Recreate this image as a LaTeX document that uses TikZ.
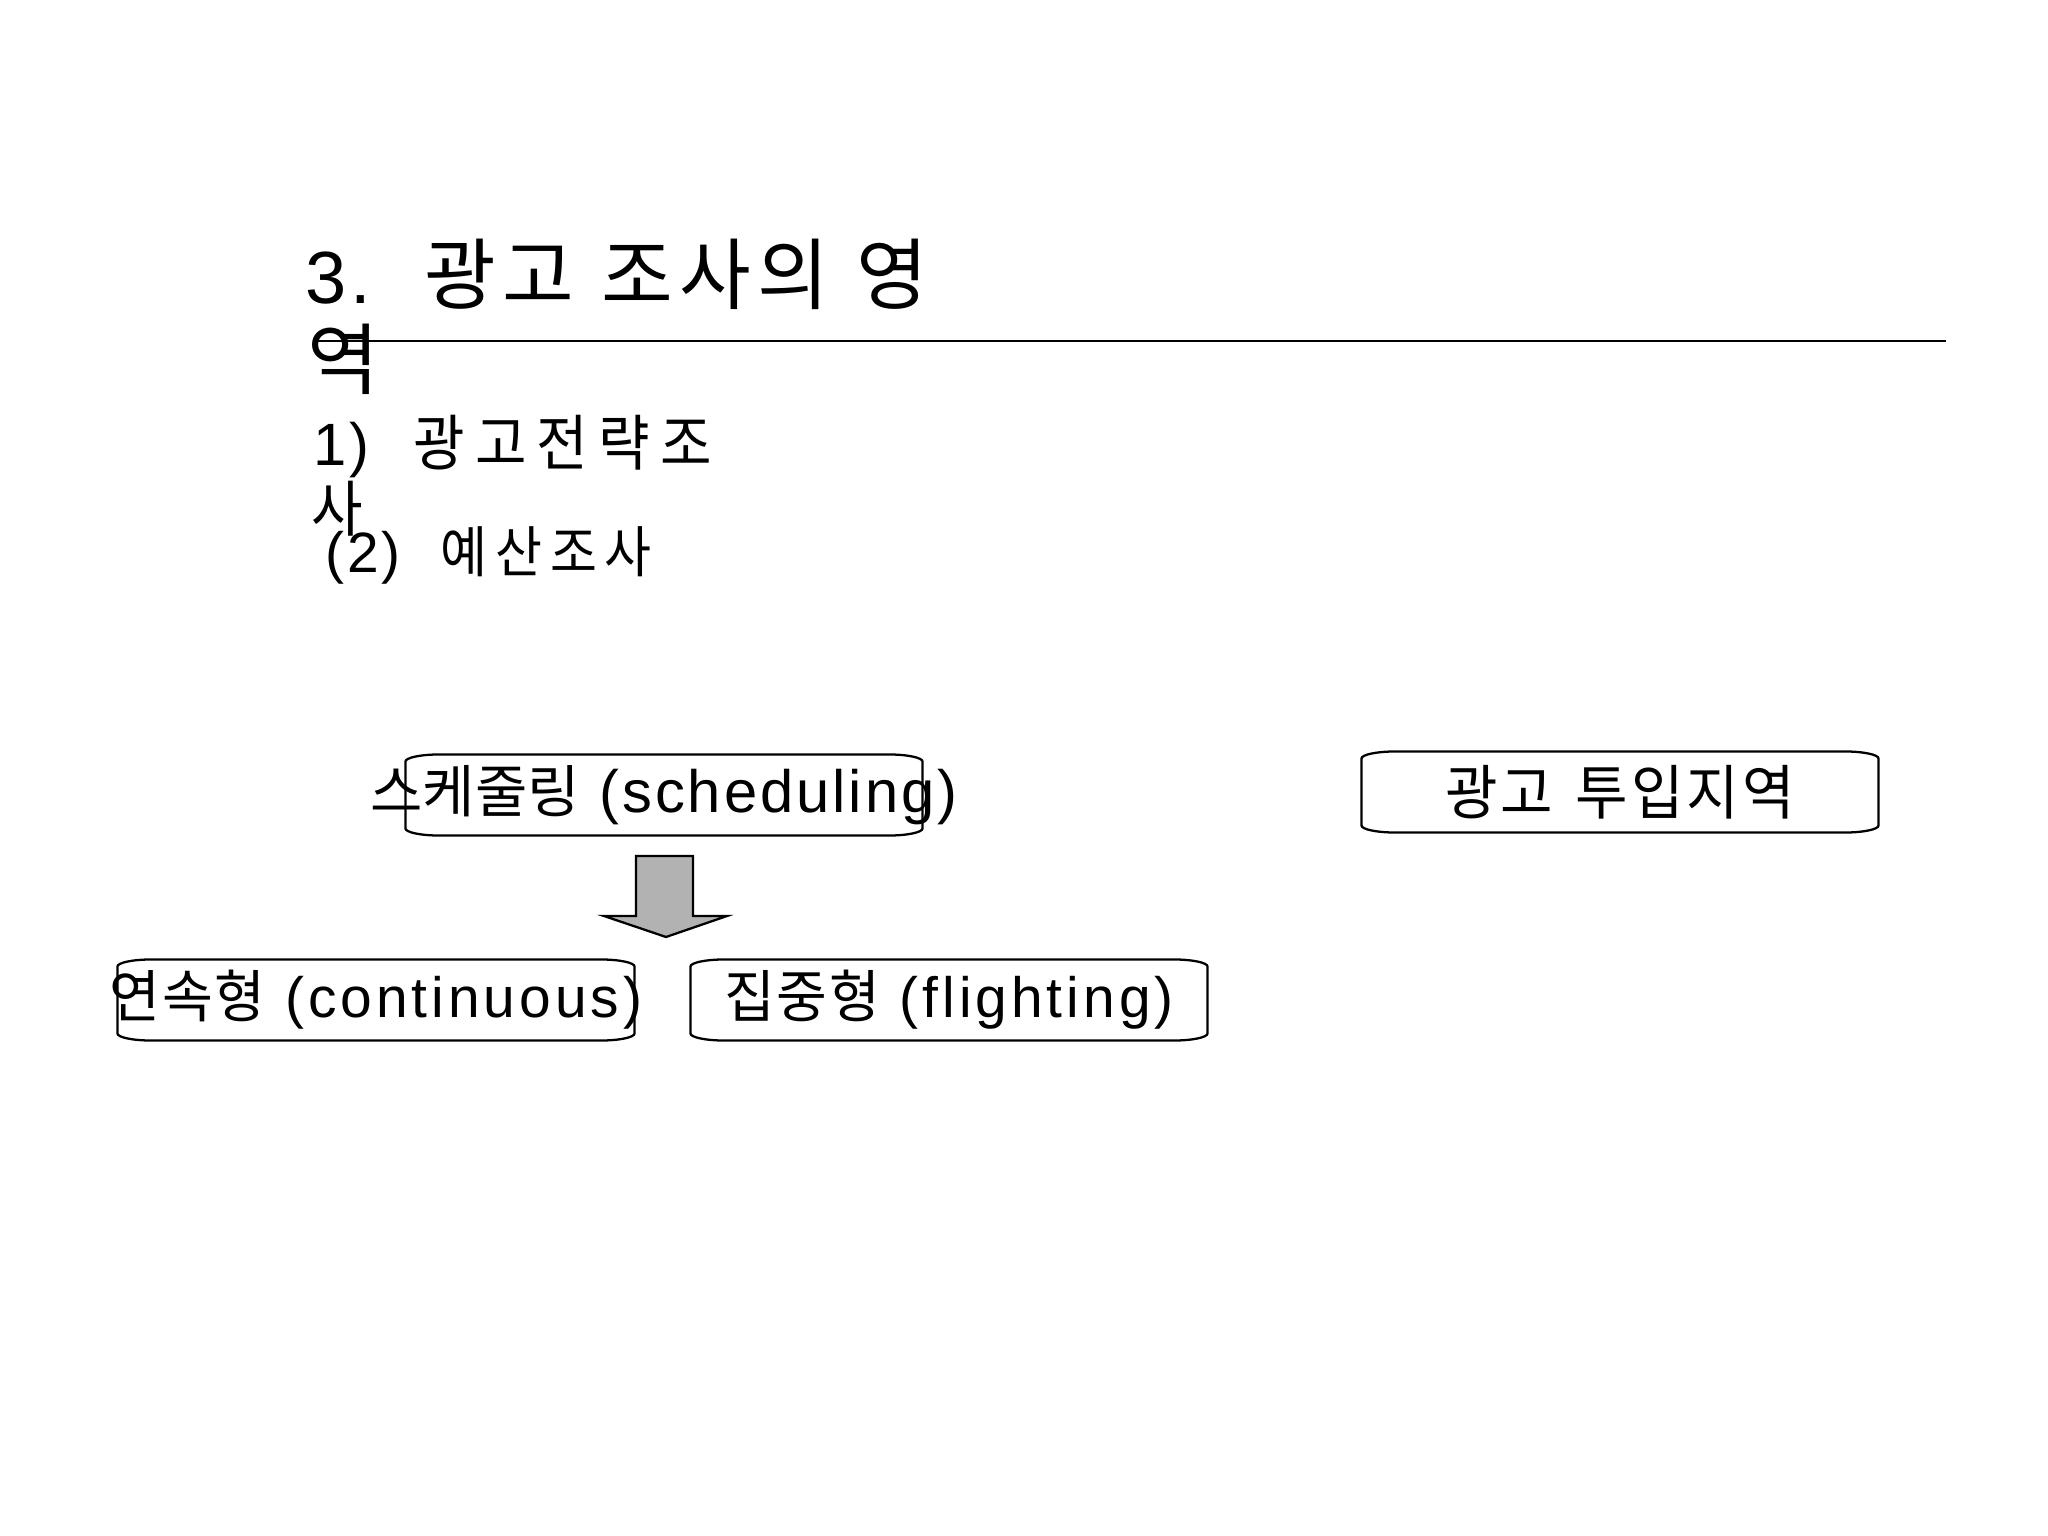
\documentclass[tikz,border=0pt]{standalone}
\usepackage{fontspec}
\newfontfamily\krT[FakeStretch=1.0,LetterSpace=8]{Noto Sans CJK KR}
\newfontfamily\krU[FakeStretch=0.92,LetterSpace=17]{Noto Sans CJK KR}
\newfontfamily\krV[FakeStretch=0.92,LetterSpace=14]{Noto Sans CJK KR}
\newfontfamily\krR[FakeStretch=0.96,LetterSpace=5]{Noto Sans CJK KR}
\newfontfamily\krC[FakeStretch=0.97,LetterSpace=3]{Noto Sans CJK KR}
\newfontfamily\krS[FakeStretch=1.0,LetterSpace=0]{Noto Sans CJK KR}
\newfontfamily\lat[LetterSpace=5]{Liberation Sans}
\newfontfamily\latb[LetterSpace=7]{Liberation Sans}
\newcommand\fs[1]{\fontsize{#1}{#1}\selectfont}
\tikzset{
  txt/.style={inner sep=0pt, text=black, anchor=base west},
  boxnode/.style={inner sep=0pt, minimum width=181.4pt, minimum height=28.1pt, text=black},
  outline/.style={line width=0.8pt, draw=black},
  blockarrow/.style={fill=black!30, draw=black, line width=0.8pt, line join=miter}
}
\newcommand\ovalframe[1]{%
  \draw[outline] ([xshift=12pt]#1.north west) -- ([xshift=-12pt]#1.north east)
    arc[start angle=90,end angle=0,x radius=12pt,y radius=2.5pt]
    -- ([yshift=2.5pt]#1.south east)
    arc[start angle=0,end angle=-90,x radius=12pt,y radius=2.5pt]
    -- ([xshift=12pt]#1.south west)
    arc[start angle=270,end angle=180,x radius=12pt,y radius=2.5pt]
    -- ([yshift=-2.5pt]#1.north west)
    arc[start angle=180,end angle=90,x radius=12pt,y radius=2.5pt] -- cycle;}
\begin{document}
\begin{tikzpicture}[x=0.3515625pt,y=0.3515625pt]
\useasboundingbox (0,0) rectangle (2048,-1536);
% title
\node[txt] (t1) at (305,-304) {{\lat\fs{26pt}3.}\hspace{19pt}{\krT\fs{27.4pt}광고\hspace{9.5pt}조사의\hspace{9.5pt}영}};
\node[txt] (t2) at (307,-389) {\krT\fs{27.4pt}역};
\coordinate (l1) at (313,-341);
\coordinate (l2) at (1946,-341);
\draw[line width=0.9pt] (l1) -- (l2);
% subtitles
\node[txt] (s1) at (313,-466) {{\lat\fs{21pt}1)}\hspace{15.3pt}{\krU\fs{21.4pt}광고전략조}};
\node[txt] (s2) at (311,-532) {\krU\fs{21.4pt}사};
\node[txt] (s3) at (325,-573) {{\lat\fs{20pt}(2)}\hspace{14pt}{\krV\fs{19.5pt}예산조사}};
% boxes
\node[boxnode, font=\lat\fs{21pt}] (sched) at (664,-795)
  {\makebox[0pt]{{\krS\fs{20pt}스케줄링} (scheduling)}};
\node[boxnode, font=\krR\fs{20.9pt}] (region) at (1620,-792)
  {\makebox[0pt]{광고\hspace{8pt}투입지역}};
\node[boxnode, font=\latb\fs{20pt}] (cont) at (376,-1000)
  {\makebox[0pt]{{\krC\fs{20pt}연속형} (continuous)}};
\node[boxnode, font=\latb\fs{20pt}] (flight) at (949,-1000)
  {\makebox[0pt]{{\krC\fs{20pt}집중형} (flighting)}};
\ovalframe{sched}
\ovalframe{region}
\ovalframe{cont}
\ovalframe{flight}
% block arrow
\draw[blockarrow] (636,-856) -- (693,-856) -- (693,-916) -- (727,-916) -- (666,-937) -- (604,-916) -- (636,-916) -- cycle;
\end{tikzpicture}
\end{document}
